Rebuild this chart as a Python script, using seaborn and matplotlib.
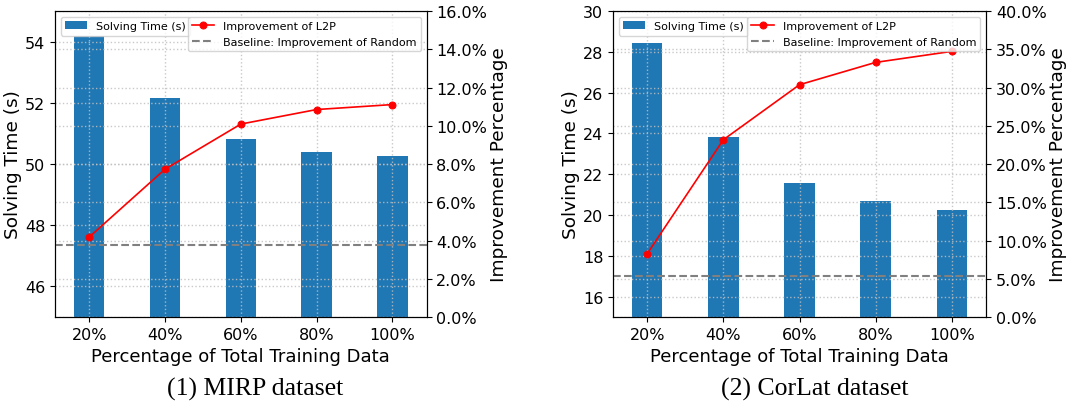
import numpy as np
import pandas as pd
import matplotlib
matplotlib.use("Agg")
import matplotlib.pyplot as plt
from matplotlib.ticker import PercentFormatter
import seaborn as sns

categories = ["20%", "40%", "60%", "80%", "100%"]

mirp_time = [54.2, 52.17, 50.83, 50.40, 50.27]
mirp_impr = [4.18, 7.73, 10.09, 10.85, 11.11]
mirp_base = 3.75

corlat_time = [28.43, 23.82, 21.57, 20.69, 20.25]
corlat_impr = [8.28, 23.18, 30.37, 33.29, 34.73]
corlat_base = 5.40

captions = ["(1) MIRP dataset", "(2) CorLat dataset"]

plt.rcParams["font.family"] = ["DejaVu Sans"]

fig = plt.figure(figsize=(10.8, 4.02), dpi=100)

specs = [
    dict(rect=[0.051, 0.209, 0.344, 0.761], time=mirp_time, impr=mirp_impr, base=mirp_base,
         ylim=(45, 55), yticks=[46, 48, 50, 52, 54], y2lim=(0, 16), y2ticks=np.arange(0, 16.1, 2),
         cap=captions[0], capx=0.236),
    dict(rect=[0.5676, 0.209, 0.3454, 0.761], time=corlat_time, impr=corlat_impr, base=corlat_base,
         ylim=(15, 30), yticks=[16, 18, 20, 22, 24, 26, 28, 30], y2lim=(0, 40), y2ticks=np.arange(0, 40.1, 5),
         cap=captions[1], capx=0.754),
]

grid_kw = dict(linestyle=":", color="#c0c0c0", linewidth=1.0, alpha=0.85)

for s in specs:
    ax = fig.add_axes(s["rect"])
    df = pd.DataFrame({"cat": categories, "time": s["time"]})
    sns.barplot(data=df, x="cat", y="time", color="#1f77b4", saturation=1, width=0.4,
                ax=ax, label="Solving Time (s)")
    ax.set_ylim(*s["ylim"])
    ax.set_yticks(s["yticks"])
    ax.set_xlim(-0.45, 4.45)
    ax.set_xlabel("Percentage of Total Training Data", fontsize=13)
    ax.set_ylabel("Solving Time (s)", fontsize=13.3, labelpad=2)
    ax.tick_params(labelsize=11.5)
    ax.grid(True, **grid_kw)

    ax2 = ax.twinx()
    idx = np.arange(len(categories))
    dfl = pd.DataFrame({"x": idx, "impr": s["impr"]})
    sns.lineplot(data=dfl, x="x", y="impr", color="red", marker="o", markersize=5,
                 markeredgecolor="red", linewidth=1.2, ax=ax2, label="Improvement of L2P")
    ax2.axhline(s["base"], color="gray", linestyle="--", linewidth=1.5,
                label="Baseline: Improvement of Random")
    ax2.set_ylim(*s["y2lim"])
    ax2.set_yticks(s["y2ticks"])
    ax2.yaxis.set_major_formatter(PercentFormatter(decimals=1))
    ax2.set_ylabel("Improvement Percentage", fontsize=13.3, labelpad=2)
    ax2.set_xlabel("")
    ax2.tick_params(labelsize=11.5)
    ax2.grid(True, **grid_kw)
    ax.set_xlim(-0.45, 4.45)

    ax.legend(loc="upper left", fontsize=8)
    ax2.legend(loc="upper right", fontsize=8)

    fig.text(s["capx"], 0.032, s["cap"], ha="center", va="center",
             fontsize=18.5, family=["Liberation Serif"])

fig.savefig("out.png", dpi=100)
